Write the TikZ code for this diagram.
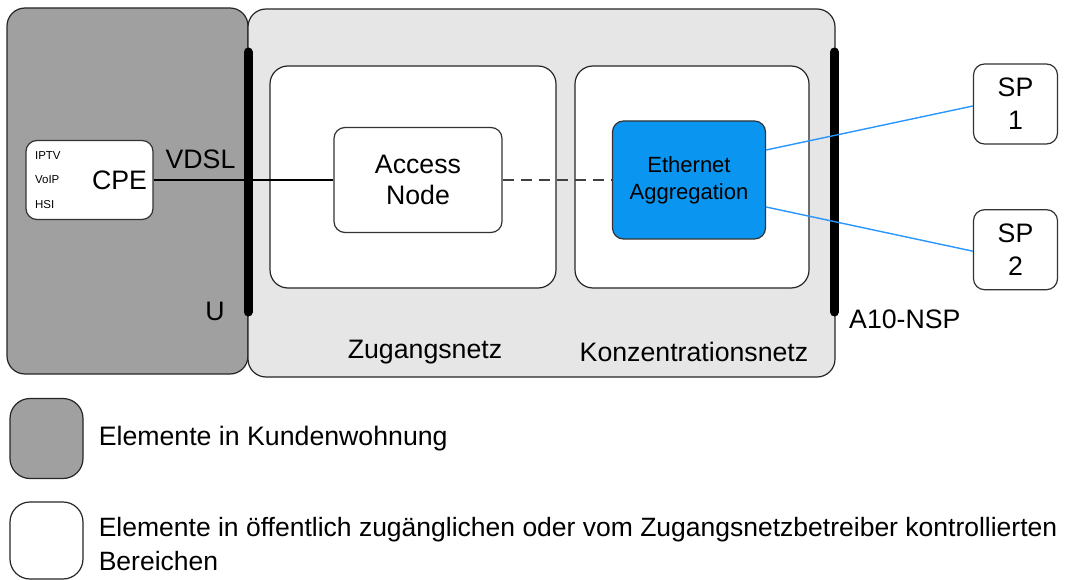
\documentclass[tikz,border=0pt]{standalone}
\usepackage{fontspec}
\setmainfont{Liberation Sans}
\usetikzlibrary{positioning}
\definecolor{homegray}{RGB}{160,160,160}
\definecolor{netgray}{RGB}{230,230,230}
\definecolor{aggblue}{RGB}{10,150,240}
\definecolor{linkblue}{RGB}{40,150,255}
\tikzset{
    area/.style={
           rectangle,
           rounded corners=18pt,
           draw=black!85, line width=1.2pt,
           inner sep=0pt,
           },
    unit/.style={
           rectangle,
           rounded corners=11pt,
           draw=black!80, line width=1.2pt,
           fill=white,
           inner sep=0pt,
           align=center,
           font=\fontsize{26.7}{31}\selectfont,
           },
    tag/.style={
           inner sep=0pt,
           font=\fontsize{26.7}{31}\selectfont,
           },
    bar/.style={line width=9pt, line cap=round},
}

\begin{document}
\begin{tikzpicture}[x=1pt,y=-1pt]
  \useasboundingbox (0,0) rectangle (1074,580);
  % areas
  \node[area, fill=homegray,
 minimum width=241pt, minimum height=366pt] (home) at (127.5,191) {};
  \node[area, fill=netgray,
 minimum width=587pt, minimum height=368pt] (net) at (541.5,193) {};
  \node[area, fill=white,
 minimum width=286pt, minimum height=222pt] (access) at (413,177) {};
  \node[area, fill=white,
 minimum width=234pt, minimum height=222pt] (concentr) at (692,177) {};

  \coordinate (utop) at (248,52);
  \coordinate (ubot) at (248,312);
  \coordinate (atop) at (834.5,52);
  \coordinate (abot) at (834.5,312);
  \draw[bar] (utop) -- (ubot);
  \draw[bar] (atop) -- (abot);

  % devices
  \node[unit,
 minimum width=127pt, minimum height=79pt,
 text width=115pt, align=right] (CPE) at (89.5,180) {CPE};
  \node[inner sep=0pt, align=left,
 font=\fontsize{11.5}{24.6}\selectfont,
 right=9.5pt of CPE.west] (svc) {IPTV\\VoIP\\HSI};
  \node[unit,
 minimum width=168pt, minimum height=105pt] (AN) at (418,180) {Access\\Node};
  \node[unit, fill=aggblue,
 minimum width=153pt, minimum height=118pt,
 font=\fontsize{22}{27}\selectfont] (EA) at (689,180) {Ethernet\\Aggregation};
  \node[unit,
 minimum width=84pt, minimum height=80pt,
 font=\fontsize{26.7}{33}\selectfont] (SP1) at (1015.5,104) {SP\\1};
  \node[unit,
 minimum width=84pt, minimum height=80pt,
 font=\fontsize{26.7}{33}\selectfont,
 below=64.5pt of SP1] (SP2) {SP\\2};

  % labels
  \node[tag] (vdsl) at (200.5,159) {VDSL};
  \node[tag] (ulbl) at (215,311) {U};
  \node[tag, anchor=west] (a10) at (849,319) {A10-NSP};
  \node[tag] (zlbl) at (425,352) {Zugangsnetz};
  \node[tag] (klbl) at (694,352) {Konzentrationsnetz};

  % legend
  \node[area, fill=homegray, rounded corners=20pt,
 minimum width=73pt, minimum height=80pt] (leghome) at (46.5,438.5) {};
  \node[area, fill=white, rounded corners=20pt,
 minimum width=73pt, minimum height=77pt] (legpub) at (46.5,540.5) {};
  \node[tag, right=15pt of leghome] (legtxt1) {Elemente in Kundenwohnung};
  \node[tag, align=left, font=\fontsize{26.5}{34}\selectfont,
 right=15pt of legpub, yshift=-4pt] (legtxt2)
 {Elemente in öffentlich zugänglichen oder vom Zugangsnetzbetreiber kontrollierten\\Bereichen};

  % connections
  \draw[line width=1.3pt] (CPE) -- (AN);
  \draw[line width=1.3pt, black!75, dash pattern=on 11pt off 7pt] (AN) -- (EA);
  \draw[line width=1.4pt, linkblue] ([yshift=30pt]EA.east) -- ([yshift=-2pt]SP1.west);
  \draw[line width=1.4pt, linkblue] ([yshift=-27pt]EA.east) -- ([yshift=-1.5pt]SP2.west);
\end{tikzpicture}
\end{document}
